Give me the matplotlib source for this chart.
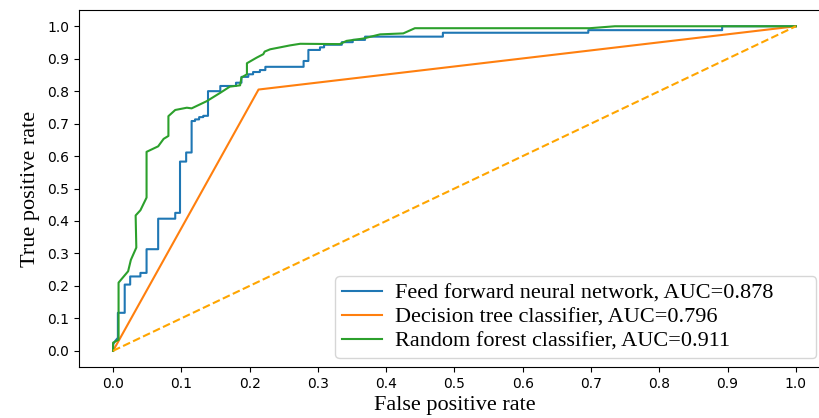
import matplotlib.pyplot as plt

# ROC points
nn_fpr = [0.0, 0.0, 0.003, 0.007, 0.007, 0.010, 0.017, 0.017, 0.025, 0.025, 0.040, 0.040,
          0.049, 0.049, 0.066, 0.066, 0.091, 0.091, 0.098, 0.098, 0.107, 0.107, 0.115, 0.115,
          0.120, 0.120, 0.126, 0.126, 0.132, 0.132, 0.139, 0.139, 0.157, 0.157, 0.180, 0.180,
          0.188, 0.188, 0.198, 0.198, 0.205, 0.205, 0.215, 0.215, 0.223, 0.223, 0.279, 0.279,
          0.286, 0.286, 0.303, 0.303, 0.309, 0.309, 0.335, 0.335, 0.351, 0.351, 0.369, 0.369,
          0.483, 0.483, 0.696, 0.696, 0.892, 0.892, 1.0]
nn_tpr = [0.0, 0.02, 0.03, 0.04, 0.117, 0.117, 0.117, 0.204, 0.204, 0.229, 0.229, 0.240,
          0.240, 0.313, 0.313, 0.407, 0.407, 0.425, 0.425, 0.583, 0.583, 0.611, 0.611, 0.708,
          0.708, 0.713, 0.713, 0.720, 0.720, 0.724, 0.724, 0.800, 0.800, 0.816, 0.816, 0.826,
          0.826, 0.844, 0.844, 0.852, 0.852, 0.859, 0.859, 0.865, 0.865, 0.875, 0.875, 0.893,
          0.893, 0.927, 0.927, 0.935, 0.935, 0.943, 0.943, 0.951, 0.951, 0.958, 0.958, 0.968,
          0.968, 0.980, 0.980, 0.988, 0.988, 1.0, 1.0]

dt_fpr = [0.0, 0.213, 1.0]
dt_tpr = [0.0, 0.805, 1.0]

rf_fpr = [0.0, 0.0, 0.008, 0.008, 0.022, 0.026, 0.034, 0.033, 0.040, 0.049, 0.049, 0.066,
          0.074, 0.081, 0.081, 0.091, 0.108, 0.115, 0.137, 0.157, 0.171, 0.186, 0.188, 0.196,
          0.196, 0.210, 0.220, 0.222, 0.230, 0.247, 0.259, 0.274, 0.332, 0.342, 0.366, 0.391,
          0.425, 0.442, 0.698, 0.735, 1.0]
rf_tpr = [0.0, 0.025, 0.034, 0.210, 0.245, 0.280, 0.318, 0.417, 0.433, 0.472, 0.613, 0.630,
          0.653, 0.662, 0.723, 0.742, 0.749, 0.747, 0.769, 0.795, 0.814, 0.818, 0.842, 0.852,
          0.886, 0.903, 0.914, 0.922, 0.929, 0.936, 0.941, 0.946, 0.945, 0.955, 0.962, 0.975,
          0.978, 0.994, 0.994, 1.0, 1.0]

labels = ['Feed forward neural network, AUC=0.878',
          'Decision tree classifier, AUC=0.796',
          'Random forest classifier, AUC=0.911']
ticks = [0.0, 0.1, 0.2, 0.3, 0.4, 0.5, 0.6, 0.7, 0.8, 0.9, 1.0]

fig = plt.figure(figsize=(8.2, 4.18), dpi=100)
ax = fig.add_axes([0.0963, 0.122, 0.9159, 0.854])

ax.plot(nn_fpr, nn_tpr, color='tab:blue', label=labels[0])
ax.plot(dt_fpr, dt_tpr, color='tab:orange', label=labels[1])
ax.plot(rf_fpr, rf_tpr, color='tab:green', label=labels[2])
ax.plot([0, 1], [0, 1], color='orange', linestyle='--')

ax.set_xlim(-0.05, 1.05)
ax.set_ylim(-0.05, 1.05)
ax.set_xticks(ticks)
ax.set_yticks(ticks)
ax.tick_params(labelsize=10)

serif = {'family': 'Liberation Serif', 'size': 16}
ax.set_xlabel('False positive rate', fontdict=serif, labelpad=4)
ax.set_ylabel('True positive rate', fontdict=serif, labelpad=5)
ax.legend(loc='lower left', bbox_to_anchor=(0.341, 0.025, 0.641, 0.2), mode='expand',
          prop=serif, labelspacing=0.15, borderpad=0.3, handlelength=1.8,
          handletextpad=0.6, borderaxespad=0)

fig.savefig('out.png')
